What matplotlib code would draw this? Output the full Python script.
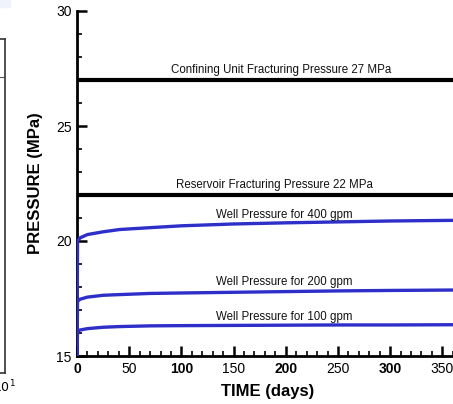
import matplotlib
matplotlib.use("Agg")
import matplotlib.pyplot as plt
from matplotlib.ticker import MultipleLocator, FixedLocator
from matplotlib.patches import Rectangle

plt.rcParams['font.family'] = ['Liberation Sans', 'DejaVu Sans']

# ---- data ----
time_days = [0, 0.5, 3, 10, 25, 41, 70, 100, 150, 200, 250, 300, 365]
p_400gpm = [15, 20.0, 20.14, 20.28, 20.40, 20.50, 20.58, 20.66, 20.74, 20.79, 20.83, 20.87, 20.90]
p_200gpm = [15, 17.38, 17.47, 17.56, 17.64, 17.67, 17.72, 17.74, 17.77, 17.80, 17.83, 17.85, 17.87]
p_100gpm = [15, 16.08, 16.13, 16.19, 16.25, 16.28, 16.31, 16.32, 16.33, 16.34, 16.35, 16.35, 16.36]

confining_pressure = 27
reservoir_pressure = 22

labels_hlines = ["Confining Unit Fracturing Pressure 27 MPa",
                 "Reservoir Fracturing Pressure 22 MPa"]
labels_wells = ["Well Pressure for 400 gpm",
                "Well Pressure for 200 gpm",
                "Well Pressure for 100 gpm"]
label_pos_wells = [21.13, 18.22, 16.70]

x_ticks = [0, 50, 100, 150, 200, 250, 300, 350]
y_ticks = [15, 20, 25, 30]

W, H = 453, 404
fig = plt.figure(figsize=(W / 100, H / 100), dpi=100)

# faint light-blue corner patch seen at top-left of the reference
fig.patches.append(Rectangle((0, (H - 7) / H), 10 / W, 7 / H,
                             transform=fig.transFigure, color='#eef3fc', zorder=0))

# ---- partial left panel (cut off) ----
ax0 = fig.add_axes([-0.5, (H - 373) / H, 4.5 / W + 0.5, (373 - 39) / H])
ax0.set_xscale('log')
ax0.set_xlim(1e-2, 10)
ax0.set_ylim(0, 1)
ax0.axhline(0.886, color='#555555', lw=0.8)
ax0.set_xticks([10])
ax0.set_xticklabels([r'$10^{1}$'], fontsize=9)
ax0.xaxis.set_minor_locator(FixedLocator([]))
ax0.set_yticks([])
ax0.tick_params(axis='x', length=0, pad=4)
for s in ax0.spines.values():
    s.set_color('#333333')
    s.set_linewidth(1.2)

# ---- main panel ----
ax = fig.add_axes([77 / W, (H - 356) / H, 381 / W, (356 - 11) / H])
ax.set_xlim(0, 365)
ax.set_ylim(15, 30)

blue = '#2e2ec8'
ax.plot(time_days, p_400gpm, color=blue, lw=2.4, zorder=3)
ax.plot(time_days, p_200gpm, color=blue, lw=2.4, zorder=3)
ax.plot(time_days, p_100gpm, color=blue, lw=2.4, zorder=3)

ax.axhline(confining_pressure, color='black', lw=3)
ax.axhline(reservoir_pressure, color='black', lw=3)

fs_ann = 8.3
ax.text(196, confining_pressure + 0.43, labels_hlines[0], ha='center', va='center',
        fontsize=fs_ann, color='#111111')
ax.text(189, reservoir_pressure + 0.43, labels_hlines[1], ha='center', va='center',
        fontsize=fs_ann, color='#111111')
for lab, yp in zip(labels_wells, label_pos_wells):
    ax.text(199, yp, lab, ha='center', va='center', fontsize=fs_ann, color='#111111')

for side in ['top', 'right']:
    ax.spines[side].set_visible(False)
for side in ['left', 'bottom']:
    ax.spines[side].set_linewidth(2)

ax.set_xticks(x_ticks)
ax.set_yticks(y_ticks)
ax.xaxis.set_minor_locator(MultipleLocator(10))
ax.yaxis.set_minor_locator(MultipleLocator(1))
ax.tick_params(which='major', direction='in', length=7, width=1.8, labelsize=10, pad=4)
ax.tick_params(which='minor', direction='in', length=3.5, width=1.2)
ax.set_xticklabels([str(v) for v in x_ticks])
for lab, v in zip(ax.get_xticklabels(), x_ticks):
    lab.set_fontweight('bold' if v % 100 == 0 else 'normal')

ax.set_xlabel('TIME (days)', fontsize=12, fontweight='bold', labelpad=6)
ax.set_ylabel('PRESSURE (MPa)', fontsize=12, fontweight='bold', labelpad=9)

fig.savefig('out.png', dpi=100)
